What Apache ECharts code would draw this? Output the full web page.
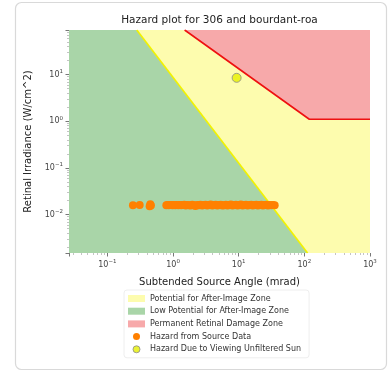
<!DOCTYPE html>
<html>
<head>
<meta charset="utf-8">
<script src="https://cdn.jsdelivr.net/npm/echarts@6/dist/echarts.min.js"></script>
<style>
  html, body { margin: 0; padding: 0; background: #fff; }
  #hazard { width: 389px; height: 372px; }
</style>
</head>
<body>
<div id="hazard"></div>
<script>
// axis extents (mrad, W/cm^2)
const xMin = 0.026, xMax = 1000;
const yMin = 0.0015, yMax = 90;

// zone outlines
const afterImageZone = [[xMin, yMin], [xMin, yMax], [xMax, yMax], [xMax, yMin]];
const lowPotentialZone = [[xMin, yMin], [xMin, yMax], [0.28, yMax], [112, yMin]];
const damageZone = [[1.5, yMax], [119, 1.1], [xMax, 1.1], [xMax, yMax]];
const afterImageLine = [[0.28, yMax], [112, yMin]];
const damageLine = [[1.5, yMax], [119, 1.1], [xMax, 1.1]];

// hazard from source data
const srcAngle = [
  0.245, 0.31, 0.44, 0.45, 0.46, 0.79, 0.82, 0.86, 0.9, 0.94,
  0.98, 1.03, 1.08, 1.13, 1.2, 1.26, 1.33, 1.4, 1.48, 1.56,
  1.65, 1.75, 1.85, 1.96, 2.08, 2.2, 2.33, 2.47, 2.62, 2.78,
  2.95, 3.13, 3.32, 3.52, 3.74, 3.97, 4.2, 4.46, 4.73, 5.02,
  5.33, 5.65, 6.0, 6.37, 6.76, 7.17, 7.6, 8.07, 8.56, 9.08,
  9.63, 10.2, 10.8, 11.5, 12.2, 12.9, 13.7, 14.6, 15.5, 16.4,
  17.4, 18.5, 19.6, 20.8, 22.1, 23.4, 24.8, 26.3, 27.9, 29.6,
  31.4, 33.3, 35.3
];
const srcIrradiance = [
  0.0158, 0.0161, 0.015, 0.0166, 0.0157, 0.0159, 0.016, 0.0158, 0.016, 0.0161,
  0.0158, 0.0161, 0.0159, 0.016, 0.0158, 0.0161, 0.0159, 0.016, 0.0162, 0.0157,
  0.0161, 0.0159, 0.0156, 0.0162, 0.0158, 0.0153, 0.0161, 0.0159, 0.0163, 0.0157,
  0.016, 0.0162, 0.0157, 0.0161, 0.0164, 0.0156, 0.016, 0.0162, 0.0157, 0.0161,
  0.0163, 0.0156, 0.0159, 0.0162, 0.0157, 0.0161, 0.0164, 0.0156, 0.016, 0.0162,
  0.0157, 0.0161, 0.0164, 0.0156, 0.016, 0.0163, 0.0157, 0.0161, 0.0163, 0.0156,
  0.016, 0.0163, 0.0157, 0.0161, 0.0163, 0.0156, 0.016, 0.0162, 0.0157, 0.0161,
  0.0159, 0.0161, 0.0159
];
const sunPoint = [[9.3, 8.5]];

const names = [
  'Potential for After-Image Zone',
  'Low Potential for After-Image Zone',
  'Permanent Retinal Damage Zone',
  'Hazard from Source Data',
  'Hazard Due to Viewing Unfiltered Sun'
];

const font = 'DejaVu Sans';

function powLabel(v) {
  const e = Math.round(Math.log10(v));
  if (Math.abs(Math.log10(v) - e) > 1e-6) return '';
  const exp = e < 0 ? '\u2212' + (-e) : String(e);
  return '{b|10}{s|' + exp + '}';
}

const labelRich = {
  b: { fontFamily: font, fontSize: 8, color: '#444', lineHeight: 12 },
  s: { fontFamily: font, fontSize: 5.5, color: '#444', verticalAlign: 'top', lineHeight: 12, padding: [0, 0, 4, 0] }
};

function zone(name, pts, color) {
  return {
    name: name,
    type: 'custom',
    coordinateSystem: 'cartesian2d',
    clip: true,
    silent: true,
    itemStyle: { color: color },
    data: pts,
    renderItem: function (params, api) {
      if (params.dataIndex !== 0) return;
      return {
        type: 'polygon',
        shape: { points: pts.map(p => api.coord(p)) },
        style: { fill: color }
      };
    }
  };
}

let myChart = echarts.init(document.getElementById('hazard'));

myChart.setOption({
  animation: false,
  backgroundColor: '#fff',
  textStyle: { fontFamily: font },
  title: {
    text: 'Hazard plot for 306 and bourdant-roa',
    left: 219.5,
    textAlign: 'center',
    top: 15,
    padding: 0,
    textStyle: { fontFamily: font, fontSize: 10.5, fontWeight: 'normal', color: '#222' }
  },
  graphic: [{
    type: 'rect',
    shape: { x: 15.5, y: 2.5, width: 371, height: 367, r: 6 },
    style: { fill: 'none', stroke: '#d9d9d9', lineWidth: 1.2 },
    z: 100
  }],
  grid: { left: 69, right: 19, top: 30, bottom: 119 },
  legend: {
    orient: 'vertical',
    left: 124,
    top: 290,
    padding: [4, 8, 4, 4],
    backgroundColor: 'rgba(255,255,255,0.8)',
    borderColor: '#eeeeee',
    borderWidth: 1,
    borderRadius: 3,
    itemWidth: 17,
    itemHeight: 7,
    itemGap: 3.7,
    textStyle: { fontFamily: font, fontSize: 8, color: '#333', lineHeight: 9 },
    data: [
      { name: names[0], icon: 'rect', itemStyle: { color: '#fdfcae' } },
      { name: names[1], icon: 'rect', itemStyle: { color: '#a9d5a8' } },
      { name: names[2], icon: 'rect', itemStyle: { color: '#f7a9aa' } },
      { name: names[3], icon: 'circle', itemStyle: { color: '#ff8000' } },
      { name: names[4], icon: 'circle', itemStyle: { color: '#e6f000', borderColor: '#8a8a8a', borderWidth: 1 } }
    ]
  },
  xAxis: {
    type: 'log',
    min: xMin,
    max: xMax,
    name: 'Subtended Source Angle (mrad)',
    nameLocation: 'middle',
    nameGap: 24,
    nameTextStyle: { fontFamily: font, fontSize: 10, color: '#222' },
    axisLine: { show: false },
    axisTick: { show: true, length: 3.5, lineStyle: { color: '#777' } },
    minorTick: { show: true, splitNumber: 9, length: 2, lineStyle: { color: '#c4c4c4' } },
    splitLine: { show: false },
    axisLabel: { showMinLabel: false, margin: 6, formatter: powLabel, rich: labelRich }
  },
  yAxis: {
    type: 'log',
    min: yMin,
    max: yMax,
    name: 'Retinal Irradiance (W/cm^2)',
    nameLocation: 'middle',
    nameGap: 27,
    nameTextStyle: { fontFamily: font, fontSize: 10, color: '#222' },
    axisLine: { show: false },
    axisTick: { show: true, length: 3.5, lineStyle: { color: '#777' } },
    minorTick: { show: true, splitNumber: 9, length: 2, lineStyle: { color: '#c4c4c4' } },
    splitLine: { show: false },
    axisLabel: { showMinLabel: false, showMaxLabel: false, margin: 6, formatter: powLabel, rich: labelRich }
  },
  series: [
    zone(names[0], afterImageZone, '#fdfcae'),
    zone(names[1], lowPotentialZone, '#a9d5a8'),
    zone(names[2], damageZone, '#f7a9aa'),
    {
      type: 'line',
      data: afterImageLine,
      symbol: 'none',
      silent: true,
      lineStyle: { color: '#f2f200', width: 1.6 },
      z: 3
    },
    {
      type: 'line',
      data: damageLine,
      symbol: 'none',
      silent: true,
      lineStyle: { color: '#ee1111', width: 1.6 },
      z: 3
    },
    {
      name: names[3],
      type: 'scatter',
      data: srcAngle.map((a, i) => [a, srcIrradiance[i]]),
      symbolSize: 8,
      itemStyle: { color: '#ff8000', opacity: 1 },
      z: 4
    },
    {
      name: names[4],
      type: 'scatter',
      data: sunPoint,
      symbolSize: 9,
      itemStyle: { color: '#e6f000', borderColor: '#8a8a8a', borderWidth: 1 },
      z: 5
    }
  ]
});
</script>
</body>
</html>
